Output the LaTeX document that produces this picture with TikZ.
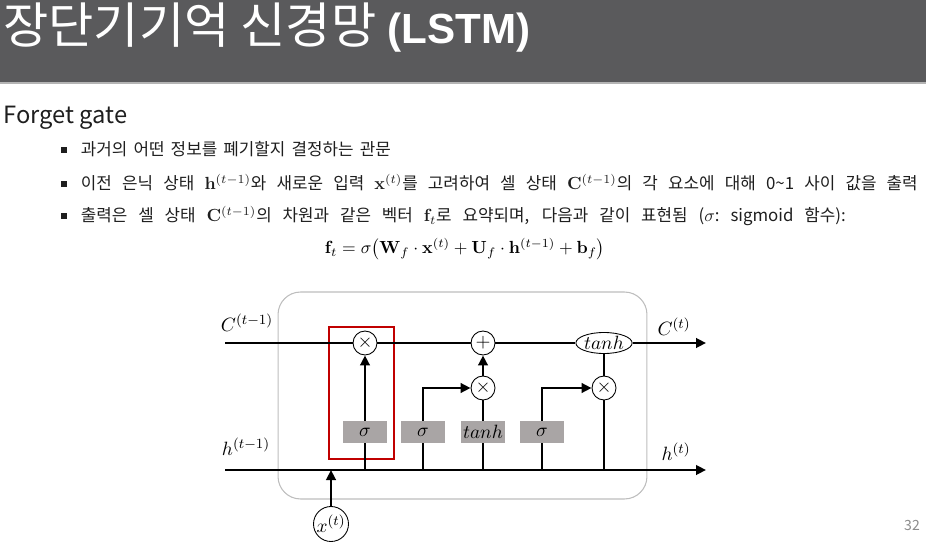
\documentclass[tikz,border=0pt]{standalone}
\usepackage[no-math]{fontspec}
\setmainfont{Noto Sans CJK KR}
\newfontfamily\latbold{Liberation Sans}
\usetikzlibrary{arrows.meta,shapes.geometric}
\definecolor{titlebar}{HTML}{5A5A5C}
\definecolor{titleline}{HTML}{B4B4B4}
\definecolor{bodytext}{HTML}{1E1E1E}
\definecolor{cellline}{HTML}{BDBDBD}
\definecolor{gatebox}{HTML}{A9A5A5}
\definecolor{focus}{HTML}{C00000}
\definecolor{pagenum}{HTML}{8C8C8C}
\newcommand{\bulsq}{\rule[0.2em]{0.36em}{0.36em}\hspace{0.8em}}

\begin{document}
\begin{tikzpicture}[x=0.02cm, y=-0.02cm,
    wire/.style={line width=1.4pt},
    flow/.style={wire, -{Triangle[length=0.2cm, width=0.19cm]}},
    op/.style={circle, draw, line width=0.5pt, fill=white, inner sep=0pt,
               minimum size=0.48cm, font=\fontsize{11}{13}\selectfont},
    gate/.style={fill=gatebox, minimum width=0.88cm, minimum height=0.44cm,
                 inner sep=0pt, font=\fontsize{11}{13}\selectfont},
    lbl/.style={font=\fontsize{11}{13}\selectfont},
    item/.style={anchor=base west, inner sep=0pt, text=bodytext, font=\fontsize{9.6}{11}\selectfont}]
    \useasboundingbox (0,0) rectangle (926,547);

    % slide header
    \fill[titlebar] (0,0) rectangle (926,82);
    \fill[titleline] (0,82) rectangle (926,84);
    \node[anchor=base west, text=white, inner sep=0pt, font=\fontsize{28}{32}\selectfont]
      (title) at (3,44) {장단기기억 신경망 {\latbold\bfseries\fontsize{24}{28}\selectfont (LSTM)}};

    % body text
    \node[anchor=base west, inner sep=0pt, text=bodytext, font=\fontsize{13.5}{16}\selectfont]
      (topic) at (3,124) {Forget gate};
    \node[item] (item1) at (61,156)
      {\bulsq\makebox[6.2cm][s]{과거의 어떤 정보를 폐기할지 결정하는 관문}};
    \node[item] (item2) at (61,190)
      {\bulsq\makebox[16.74cm][s]{이전 은닉 상태 $\mathbf{h}^{(t-1)}$와 새로운 입력 $\mathbf{x}^{(t)}$를
       고려하여 셀 상태 $\mathbf{C}^{(t-1)}$의 각 요소에 대해 0\textasciitilde1 사이 값을 출력}};
    \node[item] (item3) at (61,222)
      {\bulsq\makebox[15.3cm][s]{출력은 셀 상태 $\mathbf{C}^{(t-1)}$의 차원과 같은 벡터 $\mathbf{f}_t$로
       요약되며, 다음과 같이 표현됨 ($\sigma$:~sigmoid 함수):}};
    \node[inner sep=0pt, font=\fontsize{10}{12}\selectfont] (fteq) at (465,249)
      {$\mathbf{f}_t = \sigma\bigl(\mathbf{W}_f\cdot\mathbf{x}^{(t)} + \mathbf{U}_f\cdot\mathbf{h}^{(t-1)} + \mathbf{b}_f\bigr)$};

    % lstm cell
    \node[draw=cellline, line width=0.6pt, rounded corners=0.45cm,
          minimum width=7.38cm, minimum height=4.14cm] (cell) at (462.5,395.5) {};
    \node[draw=focus, line width=0.7pt, minimum width=1.3cm, minimum height=2.64cm]
      (fbox) at (361.5,393) {};

    \coordinate (cin) at (225,343);
    \coordinate (cout) at (706,343);
    \coordinate (hin) at (225,470);
    \coordinate (hout) at (706,470);

    \node[op] (fmul) at (365,343) {$\times$};
    \node[op] (add) at (483,343) {$+$};
    \node[op, ellipse, minimum width=0.88cm, minimum height=0.42cm] (tanhc) at (604,343) {$tanh$};
    \node[op] (imul) at (483,388) {$\times$};
    \node[op] (omul) at (604,388) {$\times$};
    \node[gate] (fg) at (365,432) {$\sigma$};
    \node[gate] (ig) at (423,432) {$\sigma$};
    \node[gate] (cg) at (483,432) {$tanh$};
    \node[gate] (og) at (542,432) {$\sigma$};
    \node[op, minimum size=0.7cm] (xt) at (331,524) {$x^{(t)}$};

    \draw[flow] (cin) -- (fmul) -- (add) -- (tanhc) -- (cout);
    \draw[flow] (hin) -- (hout);
    \draw[wire] (fg.south |- hin) -- (fg);
    \draw[flow] (fg) -- (fmul);
    \draw[wire] (ig.south |- hin) -- (ig);
    \draw[flow] (ig) |- (imul);
    \draw[wire] (cg.south |- hin) -- (cg);
    \draw[wire] (cg) -- (imul);
    \draw[flow] (imul) -- (add);
    \draw[wire] (og.south |- hin) -- (og);
    \draw[flow] (og) |- (omul);
    \draw[wire] (omul) -- (tanhc);
    \draw[wire] (omul) -- (omul |- hin);
    \draw[flow] (xt) -- (xt |- hin);

    \node[lbl] (cprev) at (247,323) {$C^{(t-1)}$};
    \node[lbl] (hprev) at (246,447) {$h^{(t-1)}$};
    \node[lbl] (cnext) at (674,327) {$C^{(t)}$};
    \node[lbl] (hnext) at (676,452) {$h^{(t)}$};

    \node[text=pagenum, font=\fontsize{8}{10}\selectfont] (page) at (912,525) {32};
  \end{tikzpicture}
\end{document}
